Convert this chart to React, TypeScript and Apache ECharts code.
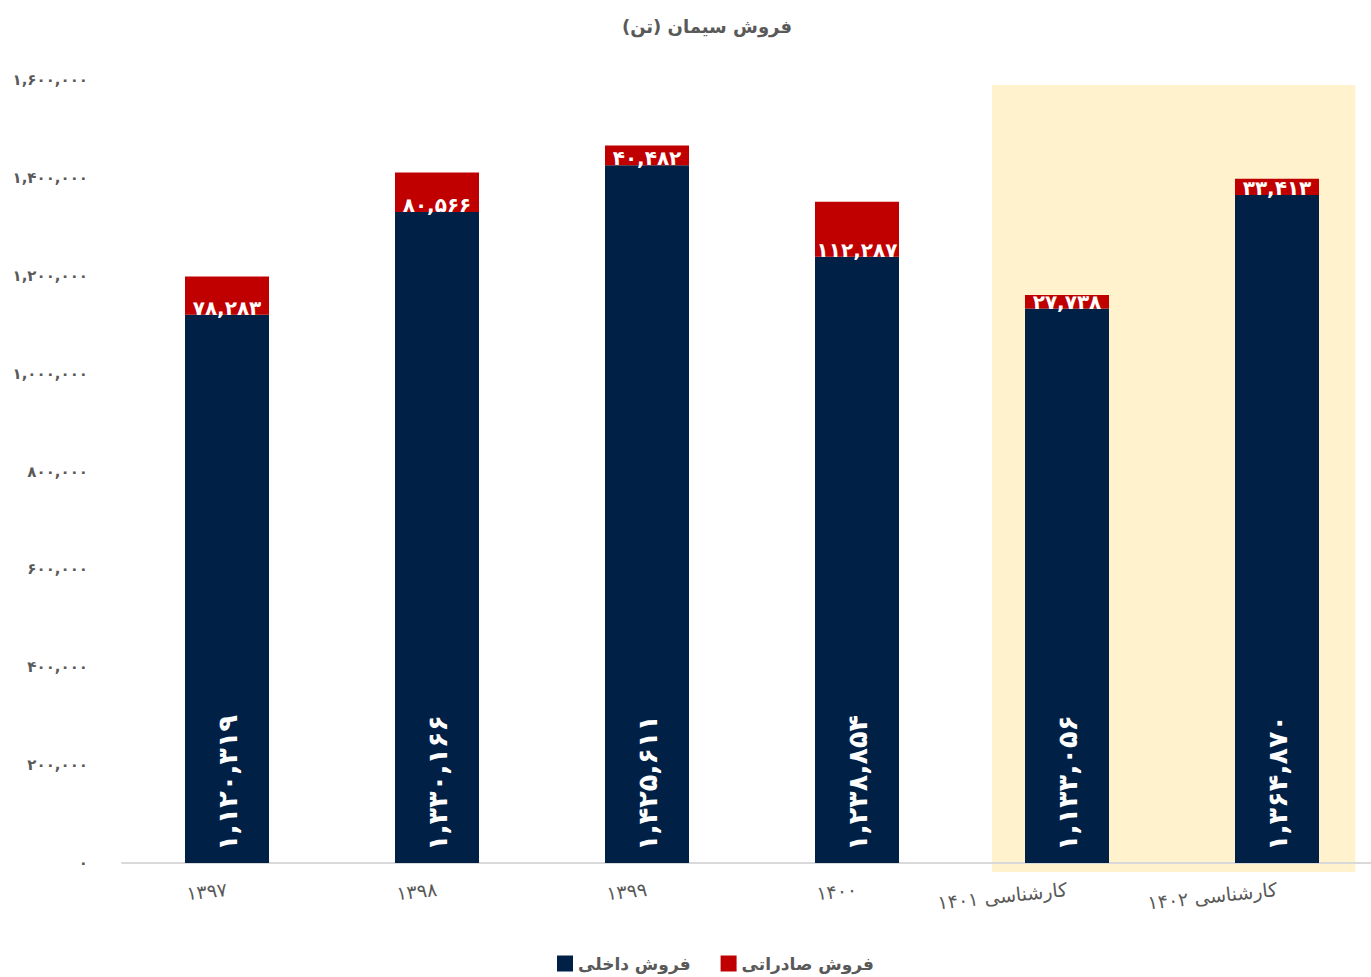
import React, { useEffect, useRef } from 'react';
import * as echarts from 'echarts';

const titleText = 'فروش سیمان (تن)';
const categories = ['۱۳۹۷', '۱۳۹۸', '۱۳۹۹', '۱۴۰۰', 'کارشناسی ۱۴۰۱', 'کارشناسی ۱۴۰۲'];
const domesticName = 'فروش داخلی';
const exportName = 'فروش صادراتی';
const domesticSales = [1120319, 1330166, 1425611, 1238854, 1133056, 1364870];
const exportSales = [78283, 80566, 40482, 112287, 27738, 33413];
const yMin = 0;
const yMax = 1600000;
const yInterval = 200000;
const highlighted = ['کارشناسی ۱۴۰۱', 'کارشناسی ۱۴۰۲'];

const FA_DIGITS = '۰۱۲۳۴۵۶۷۸۹';
const toFa = (n: number) =>
  Math.round(n)
    .toLocaleString('en-US')
    .replace(/\d/g, (d) => FA_DIGITS[+d]);

const FONT = 'DejaVu Sans';
const GRAY = '#595959';
const NAVY = '#002045';
const RED = '#C00000';

export default function App() {
  const ref = useRef<HTMLDivElement>(null);

  useEffect(() => {
    if (!ref.current) return;
    const chart = echarts.init(ref.current, null, { renderer: 'svg' });
    chart.setOption({
      animation: false,
      backgroundColor: '#ffffff',
      textStyle: { fontFamily: FONT },
      title: {
        text: titleText,
        left: 702,
        top: 12,
        textAlign: 'center',
        textStyle: { fontFamily: FONT, fontSize: 18, fontWeight: 'bold', color: GRAY },
      },
      legend: {
        data: [domesticName, exportName],
        left: 552,
        top: 950,
        itemWidth: 16,
        itemHeight: 16,
        itemGap: 30,
        icon: 'rect',
        textStyle: { fontFamily: FONT, fontSize: 17, fontWeight: 'bold', color: GRAY },
      },
      grid: { left: 122, right: 18, top: 80, bottom: 114, containLabel: false },
      xAxis: {
        type: 'category',
        data: categories,
        axisLine: { show: true, lineStyle: { color: '#d9d9d9', width: 2 } },
        axisTick: { show: false },
        axisLabel: {
          rotate: 6,
          margin: 26,
          fontFamily: FONT,
          fontSize: 19,
          color: GRAY,
        },
      },
      yAxis: {
        type: 'value',
        min: yMin,
        max: yMax,
        interval: yInterval,
        axisLine: { show: false },
        axisTick: { show: false },
        splitLine: { show: false },
        axisLabel: {
          margin: 34,
          fontFamily: FONT,
          fontSize: 15,
          fontWeight: 'bold',
          color: GRAY,
          formatter: (v: number) => toFa(v),
        },
      },
      series: [
        {
          name: domesticName,
          type: 'bar',
          stack: 'total',
          barWidth: '40%',
          data: domesticSales,
          itemStyle: { color: NAVY },
          label: {
            show: true,
            position: 'insideBottom',
            rotate: 90,
            align: 'left',
            verticalAlign: 'middle',
            distance: 12,
            color: '#ffffff',
            fontFamily: FONT,
            fontSize: 27,
            fontWeight: 'bold',
            formatter: (p: any) => toFa(p.value),
          },
        },
        {
          name: exportName,
          type: 'bar',
          stack: 'total',
          barWidth: '40%',
          data: exportSales,
          itemStyle: { color: RED },
          label: {
            show: true,
            position: 'insideBottom',
            distance: -3,
            color: '#ffffff',
            fontFamily: FONT,
            fontSize: 20,
            fontWeight: 'bold',
            formatter: (p: any) => toFa(p.value),
          },
        },
      ],
    });

    const c1 = chart.convertToPixel({ xAxisIndex: 0 }, highlighted[0]) as number;
    const c2 = chart.convertToPixel({ xAxisIndex: 0 }, highlighted[1]) as number;
    const band = c2 - c1;
    const yTop = chart.convertToPixel({ yAxisIndex: 0 }, 1590000) as number;
    const yZero = chart.convertToPixel({ yAxisIndex: 0 }, 0) as number;
    const left = c1 - band * 0.357;
    const right = c2 + band * 0.373;
    chart.setOption({
      graphic: [
        {
          type: 'rect',
          z: -1,
          silent: true,
          shape: { x: left, y: yTop, width: right - left, height: yZero + 9 - yTop },
          style: { fill: '#FFF2CC' },
        },
      ],
    });

    return () => chart.dispose();
  }, []);

  return (
    <div style={{ position: 'absolute', left: 0, top: 0, width: 1371, height: 977, overflow: 'hidden' }}>
      <div ref={ref} style={{ width: 1400, height: 977 }} />
    </div>
  );
}
